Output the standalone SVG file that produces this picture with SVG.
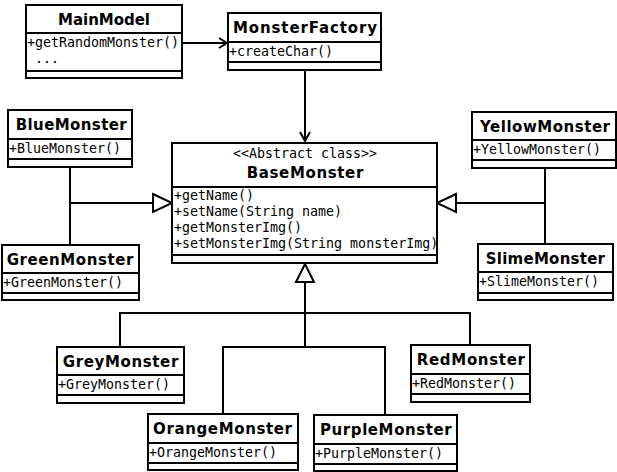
<svg xmlns="http://www.w3.org/2000/svg" width="617" height="472" viewBox="0 0 617 472">
<style>
.box{fill:#fff;stroke:#000;stroke-width:2}
.sep{stroke:#000;stroke-width:2}
.t{font-family:"DejaVu Sans","Liberation Sans",sans-serif;font-weight:bold;font-size:15px;fill:#000}
.m{font-family:"DejaVu Sans Mono","Liberation Mono",monospace;font-size:13.3px;fill:#000}
.st{font-family:"DejaVu Sans Mono","Liberation Mono",monospace;font-size:13.3px;fill:#000}
.c{fill:none;stroke:#000;stroke-width:2}
.tri{fill:#fff;stroke:#000;stroke-width:2}
</style>
<rect width="617" height="472" fill="#fff"/>
<g id="connectors">
<line class="c" x1="182" y1="43" x2="227" y2="43"/>
<polyline class="c" points="219,38 227,43 219,48"/>
<line class="c" x1="305" y1="70" x2="305" y2="141"/>
<polyline class="c" points="300,132 305,141 310,132"/>
<line class="c" x1="70" y1="167" x2="70" y2="245"/>
<line class="c" x1="70" y1="203" x2="153" y2="203"/>
<polygon class="tri" points="153,194 172,203 153,212"/>
<line class="c" x1="545" y1="168" x2="545" y2="244"/>
<line class="c" x1="545" y1="203" x2="456" y2="203"/>
<polygon class="tri" points="456,194 437,203 456,212"/>
<line class="c" x1="305" y1="282" x2="305" y2="347"/>
<polyline class="c" points="120,347 120,313 470,313 470,345"/>
<polyline class="c" points="223,414 223,347 385,347 385,415"/>
<polygon class="tri" points="296,282 305,264 314,282"/>
</g>
<g id="MainModel">
<rect class="box" x="26" y="5" width="156" height="73"/>
<line class="sep" x1="26" y1="33" x2="182" y2="33"/>
<line class="sep" x1="26" y1="71" x2="182" y2="71"/>
<text class="t" x="58" y="25" textLength="92">MainModel</text>
<text class="m" x="27" y="47">+getRandomMonster()</text>
<text class="m" x="35" y="63">...</text>
</g>
<g id="MonsterFactory">
<rect class="box" x="228" y="13" width="153" height="57"/>
<line class="sep" x1="228" y1="42" x2="381" y2="42"/>
<line class="sep" x1="228" y1="62" x2="381" y2="62"/>
<text class="t" x="233" y="33" textLength="144">MonsterFactory</text>
<text class="m" x="229" y="56">+createChar()</text>
</g>
<g id="BlueMonster">
<rect class="box" x="8" y="110" width="124" height="57"/>
<line class="sep" x1="8" y1="139" x2="132" y2="139"/>
<line class="sep" x1="8" y1="159" x2="132" y2="159"/>
<text class="t" x="15.7" y="130" textLength="111">BlueMonster</text>
<text class="m" x="9" y="153">+BlueMonster()</text>
</g>
<g id="GreenMonster">
<rect class="box" x="2" y="245" width="137" height="55"/>
<line class="sep" x1="2" y1="273" x2="139" y2="273"/>
<line class="sep" x1="2" y1="293" x2="139" y2="293"/>
<text class="t" x="6.7" y="265" textLength="126.6">GreenMonster</text>
<text class="m" x="3" y="287">+GreenMonster()</text>
</g>
<g id="BaseMonster">
<rect class="box" x="172" y="143" width="265" height="120"/>
<line class="sep" x1="172" y1="187" x2="437" y2="187"/>
<line class="sep" x1="172" y1="255" x2="437" y2="255"/>
<text class="st" x="233" y="158">&lt;&lt;Abstract class&gt;&gt;</text>
<text class="t" x="246.7" y="178" textLength="116.6">BaseMonster</text>
<text class="m" x="174" y="200">+getName()</text>
<text class="m" x="174" y="216">+setName(String name)</text>
<text class="m" x="174" y="232">+getMonsterImg()</text>
<text class="m" x="174" y="248">+setMonsterImg(String monsterImg)</text>
</g>
<g id="YellowMonster">
<rect class="box" x="472" y="112" width="144" height="56"/>
<line class="sep" x1="472" y1="140" x2="616" y2="140"/>
<line class="sep" x1="472" y1="160" x2="616" y2="160"/>
<text class="t" x="480" y="132" textLength="130">YellowMonster</text>
<text class="m" x="473" y="154">+YellowMonster()</text>
</g>
<g id="SlimeMonster">
<rect class="box" x="478" y="244" width="135" height="56"/>
<line class="sep" x1="478" y1="272" x2="613" y2="272"/>
<line class="sep" x1="478" y1="293" x2="613" y2="293"/>
<text class="t" x="485.7" y="264" textLength="119.3">SlimeMonster</text>
<text class="m" x="479" y="286">+SlimeMonster()</text>
</g>
<g id="GreyMonster">
<rect class="box" x="57" y="347" width="127" height="56"/>
<line class="sep" x1="57" y1="375" x2="184" y2="375"/>
<line class="sep" x1="57" y1="395" x2="184" y2="395"/>
<text class="t" x="62.7" y="367" textLength="115.6">GreyMonster</text>
<text class="m" x="58" y="389">+GreyMonster()</text>
</g>
<g id="RedMonster">
<rect class="box" x="411" y="345" width="119" height="57"/>
<line class="sep" x1="411" y1="374" x2="530" y2="374"/>
<line class="sep" x1="411" y1="394" x2="530" y2="394"/>
<text class="t" x="416.7" y="365" textLength="108.3">RedMonster</text>
<text class="m" x="412" y="388">+RedMonster()</text>
</g>
<g id="OrangeMonster">
<rect class="box" x="148" y="414" width="150" height="56"/>
<line class="sep" x1="148" y1="443" x2="298" y2="443"/>
<line class="sep" x1="148" y1="463" x2="298" y2="463"/>
<text class="t" x="153" y="434" textLength="139">OrangeMonster</text>
<text class="m" x="149" y="457">+OrangeMonster()</text>
</g>
<g id="PurpleMonster">
<rect class="box" x="314" y="415" width="143" height="56"/>
<line class="sep" x1="314" y1="444" x2="457" y2="444"/>
<line class="sep" x1="314" y1="464" x2="457" y2="464"/>
<text class="t" x="320" y="435" textLength="131.7">PurpleMonster</text>
<text class="m" x="315" y="458">+PurpleMonster()</text>
</g>
</svg>
